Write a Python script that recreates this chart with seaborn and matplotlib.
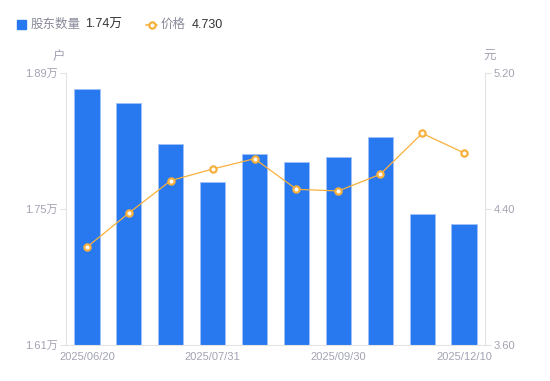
import matplotlib
matplotlib.use("Agg")
import matplotlib.pyplot as plt
import seaborn as sns
import pandas as pd
from matplotlib.lines import Line2D
from matplotlib.patches import Rectangle

dates = ["2025/06/20", "2025/07/10", "2025/07/20", "2025/07/31", "2025/08/20",
         "2025/09/10", "2025/09/30", "2025/10/31", "2025/11/20", "2025/12/10"]
holders = [1.874, 1.859, 1.817, 1.778, 1.807, 1.798, 1.804, 1.824, 1.745, 1.735]  # 万户
prices = [4.176, 4.376, 4.567, 4.635, 4.696, 4.516, 4.506, 4.604, 4.845, 4.730]
shown_dates = ["2025/06/20", "2025/07/31", "2025/09/30", "2025/12/10"]
left_ticks = [1.61, 1.75, 1.89]
right_ticks = [3.60, 4.40, 5.20]

sns.set_style("white")
plt.rcParams["font.family"] = ["Liberation Sans", "Noto Sans CJK SC", "DejaVu Sans"]

df = pd.DataFrame({"date": dates, "holders": holders, "price": prices})

BLUE = "#2878F0"
ORANGE = "#F8B03C"
GRAY = "#A3A3B3"
AXC = "#E3E3E3"

fig = plt.figure(figsize=(5.5, 3.81), dpi=100)
ax = fig.add_axes([66 / 550, 1 - 345 / 381, (485 - 66) / 550, (345 - 73) / 381])
sns.barplot(data=df, x="date", y="holders", ax=ax, color=BLUE, width=0.6,
            saturation=1, edgecolor="#9EC2F8", linewidth=0.6)
ax.set_ylim(left_ticks[0], left_ticks[-1])
ax.set_yticks(left_ticks)
ax.set_yticklabels([f"{v:.2f}万" for v in left_ticks])

ax2 = ax.twinx()
sns.pointplot(data=df, x="date", y="price", ax=ax2, color=ORANGE,
              markers="o", linestyles="-", linewidth=0.9,
              markersize=4.5, markerfacecolor="white", markeredgecolor=ORANGE,
              markeredgewidth=1.6)
ax2.set_ylim(right_ticks[0], right_ticks[-1])
ax2.set_yticks(right_ticks)
ax2.set_yticklabels([f"{v:.2f}" for v in right_ticks])
ax.set_xlim(-0.5, len(dates) - 0.5)
ax2.set_xlim(-0.5, len(dates) - 0.5)

idx = [dates.index(d) for d in shown_dates]
ax.set_xticks(idx)
ax.set_xticklabels(shown_dates)

for a in (ax, ax2):
    a.set_xlabel("")
    a.set_ylabel("")
    for s in a.spines.values():
        s.set_visible(False)
    a.grid(False)

ax.spines["left"].set_visible(True)
ax.spines["left"].set_color(AXC)
ax.spines["bottom"].set_visible(True)
ax.spines["bottom"].set_color(AXC)
ax2.spines["right"].set_visible(True)
ax2.spines["right"].set_color(AXC)

ax.tick_params(axis="y", colors=AXC, labelcolor=GRAY, labelsize=8, length=4, width=0.8, pad=2, left=True)
ax.tick_params(axis="x", length=0, labelcolor=GRAY, labelsize=8, pad=5)
ax2.tick_params(axis="y", colors=AXC, labelcolor=GRAY, labelsize=8, length=4, width=0.8, pad=2, right=True)
ax2.tick_params(axis="x", length=0)

fig.text(59 / 550, 1 - 57 / 381, "户", color=GRAY, fontsize=9, ha="center", va="center")
fig.text(490 / 550, 1 - 57 / 381, "元", color=GRAY, fontsize=9, ha="center", va="center")

# legend
fig.patches.append(Rectangle((17 / 550, 1 - 29 / 381), 9 / 550, 9 / 381,
                             transform=fig.transFigure, color=BLUE, figure=fig))
fig.text(31 / 550, 1 - 24.5 / 381, "股东数量", color="#8A8A9A", fontsize=9, va="center")
fig.text(85 / 550, 1 - 24.5 / 381, "1.74万", color="#333333", fontsize=9, va="center")
fig.lines.append(Line2D([146 / 550, 157 / 550], [1 - 24.5 / 381] * 2, transform=fig.transFigure,
                        color=ORANGE, linewidth=1.2, figure=fig))
fig.lines.append(Line2D([151.5 / 550], [1 - 24.5 / 381], transform=fig.transFigure,
                        color=ORANGE, marker="o", markersize=4.5, markerfacecolor="white",
                        markeredgewidth=1.6, linestyle="none", figure=fig))
fig.text(161 / 550, 1 - 24.5 / 381, "价格", color="#8A8A9A", fontsize=9, va="center")
fig.text(192 / 550, 1 - 24.5 / 381, "4.730", color="#333333", fontsize=9, va="center")

fig.savefig("out.png", dpi=100)
